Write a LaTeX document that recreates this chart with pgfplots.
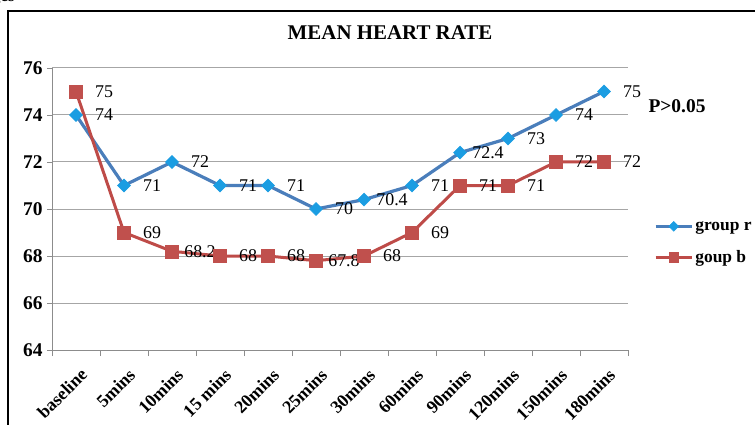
\documentclass[border=0pt]{standalone}
\usepackage{fontspec}
\setmainfont{Liberation Serif}
\usepackage{pgfplots}
\pgfplotsset{compat=1.18}
\definecolor{blueline}{HTML}{4A7EBB}
\definecolor{bluemark}{HTML}{1B9DE2}
\definecolor{redline}{HTML}{BE4B48}
\definecolor{redmark}{HTML}{C0504D}
\definecolor{gridgray}{HTML}{A6A6A6}
\definecolor{axisgray}{HTML}{8C8C8C}
\begin{document}
\begin{tikzpicture}[x=1bp,y=1bp]
\useasboundingbox (0,0) rectangle (755,424);
\begin{scope}
\clip (0,0) rectangle (755,424);
\draw[line width=2bp] (8,-10) -- (8,413) -- (800,413);
\node[anchor=base east, inner sep=0pt, font=\bfseries\fontsize{17}{17}\selectfont] at (15,422) {ages};
\end{scope}
\node[font=\bfseries\fontsize{21}{21}\selectfont] at (390,391) {MEAN HEART RATE};
\node[anchor=west, font=\bfseries\fontsize{19.5}{19.5}\selectfont] at (645,318) {P>0.05};
\begin{axis}[
  at={(52bp,74bp)}, anchor=south west,
  scale only axis, width=576bp, height=282bp,
  clip=false,
  xmin=-0.5, xmax=11.5, ymin=64, ymax=76,
  ytick={64,66,...,76},
  xtick={0,...,11},
  xticklabels={baseline,5mins,10mins,15 mins,20mins,25mins,30mins,60mins,90mins,120mins,150mins,180mins},
  minor xtick={-0.5,0.5,...,11.5},
  major x tick style={draw=none},
  minor x tick style={axisgray, line width=0.8bp},
  major y tick style={axisgray, line width=0.8bp},
  tick align=outside,
  major tick length=5bp, minor tick length=6bp,
  axis x line*=bottom, axis y line*=left,
  axis line style={axisgray, line width=0.8bp, -},
  ymajorgrids, grid style={gridgray, line width=1bp},
  /pgf/number format/assume math mode=true,
  x tick label style={rotate=45, anchor=north east, inner sep=1bp, yshift=-10bp, xshift=-5bp, font=\bfseries\fontsize{18}{18}\selectfont},
  y tick label style={font=\bfseries\fontsize{19.5}{19.5}\selectfont, xshift=-1bp},
  nodes near coords,
  every node near coord/.append style={anchor=center, xshift=28bp, text=black, font=\fontsize{18}{18}\selectfont},
  legend style={at={(rel axis cs:1.045,0.465)}, anchor=north west, draw=none, fill=none,
    font=\bfseries\fontsize{17.5}{17.5}\selectfont, row sep=15bp, inner sep=0pt,
    nodes={inner sep=2bp}},
  legend cell align=left,
  legend image code/.code={\draw[#1, mark repeat=2, mark phase=2, every mark/.append style={scale=0.75}] plot coordinates {(0bp,0bp) (18bp,0bp) (36bp,0bp)};},
]
\addplot[blueline, line width=3.2bp, mark=square*, mark size=4.6bp,
  mark options={rotate=45, fill=bluemark, draw=bluemark, line width=0.5bp}]
  coordinates {(0,74) (1,71) (2,72) (3,71) (4,71) (5,70) (6,70.4) (7,71) (8,72.4) (9,73) (10,74) (11,75)};
\addlegendentry{group r}
\addplot[redline, line width=3bp, mark=square*, mark size=6.5bp,
  mark options={fill=redmark, draw=redmark, line width=0.5bp}]
  coordinates {(0,75) (1,69) (2,68.2) (3,68) (4,68) (5,67.8) (6,68) (7,69) (8,71) (9,71) (10,72) (11,72)};
\addlegendentry{goup b}
\end{axis}
\end{tikzpicture}
\end{document}
